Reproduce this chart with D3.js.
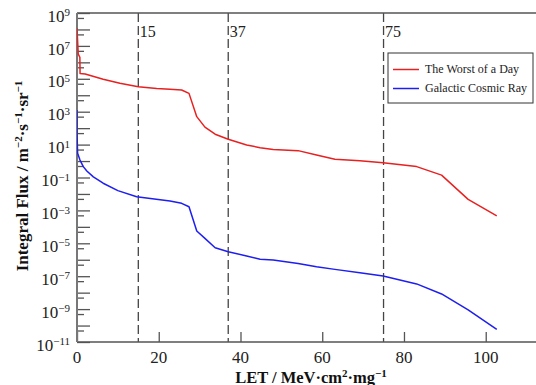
<!DOCTYPE html>
<html><head><meta charset="utf-8">
<script src="https://cdn.jsdelivr.net/npm/d3@7"></script>
<style>
html,body{margin:0;padding:0;background:#fff;}
svg{display:block;font-family:"Liberation Serif","Times New Roman",serif;}
</style></head>
<body>
<svg id="chart" width="536" height="385"></svg>
<script>
// LET values (MeV·cm²/mg) and integral flux for each series
const worstLET = [0, 0.3, 0.7, 0.75, 2.0, 6.4, 10.5, 15.0, 19.5, 22.75, 25.6, 27.4, 29.3, 31.3, 33.8, 37.0, 41.5, 44.8, 48.0, 54.1, 58.6, 63.1, 69.2, 74.9, 83.1, 89.2, 95.7, 102.7];
const worstFlux = [1.2e8, 3.2e6, 2.0e6, 2.1e5, 1.95e5, 9.3e4, 5.4e4, 3.3e4, 2.6e4, 2.3e4, 2.1e4, 1.3e4, 5.0e2, 1.15e2, 4.3e1, 2.1e1, 9.5, 6.5, 5.1, 4.3, 2.3, 1.3, 1.05, 0.79, 0.46, 0.14, 4.7e-3, 4.6e-4];
const gcrLET = [0, 0.02, 0.1, 0.15, 0.73, 1.54, 2.4, 4.0, 6.4, 10.0, 14.6, 22.75, 25.6, 27.4, 29.3, 31.3, 33.8, 37.0, 41.5, 44.8, 48.0, 54.1, 58.6, 63.1, 69.2, 74.9, 83.1, 89.2, 95.7, 102.7];
const gcrFlux = [1.25e3, 3.8e1, 7.4, 2.95, 1.15, 0.46, 0.25, 0.11, 0.045, 0.016, 6.8e-3, 3.7e-3, 2.7e-3, 1.66e-3, 5.6e-5, 2.0e-5, 5.4e-6, 3.1e-6, 1.7e-6, 1.07e-6, 9.8e-7, 6.0e-7, 3.8e-7, 2.6e-7, 1.6e-7, 1.02e-7, 3.4e-8, 8.3e-9, 8.9e-10, 5.9e-11];
const seriesNames = ["The Worst of a Day", "Galactic Cosmic Ray"];
const seriesColors = ["#e82020", "#1e1ef0"];
const refLines = [15, 37, 75];
const xTicks = [0, 20, 40, 60, 80, 100];
const yLabelExps = [-11, -9, -7, -5, -3, -1, 1, 3, 5, 7, 9];

const svg = d3.select("#chart");
const L = 77, R = 536, T = 13, B = 342;
const x = d3.scaleLinear().domain([0, 112.3]).range([L, R]);
const y = d3.scaleLog().domain([1e-11, 1e9]).range([B, T]);

const axisColor = "#555";

// clip
svg.append("clipPath").attr("id", "clip").append("rect")
  .attr("x", L).attr("y", T).attr("width", R - L).attr("height", B - T);

// reference dashed lines
const g = svg.append("g");
g.selectAll("line.ref").data(refLines).enter().append("line")
  .attr("x1", d => x(d)).attr("x2", d => x(d))
  .attr("y1", T).attr("y2", B)
  .attr("stroke", "#444").attr("stroke-width", 1.3)
  .attr("stroke-dasharray", "9,4");
g.selectAll("text.ref").data(refLines).enter().append("text")
  .attr("x", d => x(d) + 1.5).attr("y", 37)
  .attr("font-size", 16).attr("fill", "#222")
  .text(d => d);

// y axis ticks
const majors = d3.range(-11, 10).map(e => Math.pow(10, e));
const minors = d3.range(-11, 9).map(e => 5 * Math.pow(10, e));
const yAxis = d3.axisLeft(y).tickValues(majors).tickSize(-13).tickFormat("");
const yg = svg.append("g").attr("transform", `translate(${L},0)`).call(yAxis);
const yAxisMinor = d3.axisLeft(y).tickValues(minors).tickSize(-7).tickFormat("");
const ygm = svg.append("g").attr("transform", `translate(${L},0)`).call(yAxisMinor);
[yg, ygm].forEach(a => {
  a.select(".domain").remove();
  a.selectAll("line").attr("stroke", axisColor).attr("stroke-width", 1.3);
});

// y labels
const yl = svg.append("g");
yLabelExps.forEach(e => {
  const t = yl.append("text")
    .attr("x", 70).attr("y", y(Math.pow(10, e)) + 8.6)
    .attr("text-anchor", "end").attr("font-size", 17).attr("fill", "#222");
  t.append("tspan").text("10");
  t.append("tspan").attr("dy", -5.5).attr("font-size", 11)
    .text(e < 0 ? "\u2212" + Math.abs(e) : String(e));
});

// x axis ticks
const xAxis = d3.axisBottom(x).tickValues(xTicks).tickSize(-10).tickFormat("");
const xg = svg.append("g").attr("transform", `translate(0,${B})`).call(xAxis);
xg.select(".domain").remove();
xg.selectAll("line").attr("stroke", axisColor).attr("stroke-width", 1.3);
svg.append("g").selectAll("text").data(xTicks).enter().append("text")
  .attr("x", d => x(d)).attr("y", 362.5)
  .attr("text-anchor", "middle").attr("font-size", 17).attr("fill", "#222")
  .text(d => d);

// frame lines
svg.append("line").attr("x1", L).attr("x2", R).attr("y1", B).attr("y2", B)
  .attr("stroke", axisColor).attr("stroke-width", 1.6);
svg.append("line").attr("x1", L).attr("x2", R).attr("y1", T).attr("y2", T)
  .attr("stroke", axisColor).attr("stroke-width", 1.3);
svg.append("line").attr("x1", L).attr("x2", L).attr("y1", T).attr("y2", B)
  .attr("stroke", "#777").attr("stroke-width", 2);

// series
const line = d3.line().x(d => x(d[0])).y(d => y(d[1]));
const series = [d3.zip(worstLET, worstFlux), d3.zip(gcrLET, gcrFlux)];
svg.append("g").attr("clip-path", "url(#clip)")
  .selectAll("path").data(series).enter().append("path")
  .attr("d", line).attr("fill", "none")
  .attr("stroke", (d, i) => seriesColors[i]).attr("stroke-width", 1.5)
  .attr("stroke-linejoin", "round");

// legend
const lg = svg.append("g");
lg.append("rect").attr("x", 388).attr("y", 53).attr("width", 145).attr("height", 50)
  .attr("fill", "#fff").attr("stroke", "#333").attr("stroke-width", 1);
seriesNames.forEach((n, i) => {
  const yy = 69.5 + i * 19;
  lg.append("line").attr("x1", 393).attr("x2", 419).attr("y1", yy).attr("y2", yy)
    .attr("stroke", seriesColors[i]).attr("stroke-width", 1.5);
  lg.append("text").attr("x", 425).attr("y", yy + 3.8)
    .attr("font-size", 12).attr("fill", "#222").text(n);
});

// axis titles
const xt = svg.append("text").attr("x", 311).attr("y", 382.5)
  .attr("text-anchor", "middle").attr("font-size", 16.5).attr("font-weight", "bold").attr("fill", "#111");
xt.append("tspan").text("LET / MeV\u00b7cm");
xt.append("tspan").attr("dy", -6).attr("font-size", 11).text("2");
xt.append("tspan").attr("dy", 6).text("\u00b7mg");
xt.append("tspan").attr("dy", -6).attr("font-size", 11).text("\u22121");

const yt = svg.append("text").attr("transform", "translate(28,176) rotate(-90)")
  .attr("text-anchor", "middle").attr("font-size", 17).attr("font-weight", "bold").attr("fill", "#111");
yt.append("tspan").text("Integral Flux / m");
yt.append("tspan").attr("dy", -6).attr("font-size", 11).text("\u22122");
yt.append("tspan").attr("dy", 6).text("\u00b7s");
yt.append("tspan").attr("dy", -6).attr("font-size", 11).text("\u22121");
yt.append("tspan").attr("dy", 6).text("\u00b7sr");
yt.append("tspan").attr("dy", -6).attr("font-size", 11).text("\u22121");
</script>
</body></html>
